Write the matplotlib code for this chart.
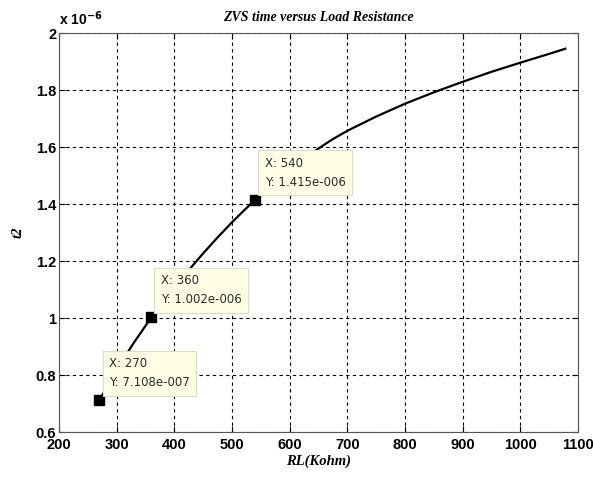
import numpy as np
import matplotlib.pyplot as plt

# load resistance (kohm) and ZVS time t2 (s)
rl = [270, 300, 330, 360, 380, 400, 425, 450, 475, 500, 520, 540, 570,
      600, 625, 650, 675, 700, 750, 800, 850, 900, 950, 1000, 1050, 1078]
t2 = [0.7108e-6, 0.820e-6, 0.914e-6, 1.002e-6, 1.055e-6, 1.106e-6,
      1.168e-6, 1.227e-6, 1.283e-6, 1.336e-6, 1.376e-6, 1.415e-6,
      1.470e-6, 1.520e-6, 1.559e-6, 1.595e-6, 1.628e-6, 1.657e-6,
      1.707e-6, 1.752e-6, 1.792e-6, 1.829e-6, 1.864e-6, 1.896e-6,
      1.927e-6, 1.945e-6]

# data tips
tip_x = [270, 360, 540]
tip_y = [7.108e-7, 1.002e-6, 1.415e-6]

xticks = [200, 300, 400, 500, 600, 700, 800, 900, 1000, 1100]
yticks = [0.6, 0.8, 1.0, 1.2, 1.4, 1.6, 1.8, 2.0]


def matlab_exp(v):
    # MATLAB style 4 significant digits with 3 digit exponent
    m, e = ('%.3e' % v).split('e')
    e = int(e)
    sign = '-' if e < 0 else '+'
    return '%se%s%03d' % (m, sign, abs(e))


fig = plt.figure(figsize=(5.93, 4.86), dpi=100)
ax = fig.add_axes([0.0995, 0.111, 0.8752, 0.821])

scale = 1e6
ax.plot(rl, np.array(t2) * scale, color='black', lw=1.6, zorder=3)
ax.plot(tip_x, np.array(tip_y) * scale, 's', color='black', ms=7.5, zorder=4,
        markeredgecolor='black')

for x, y in zip(tip_x, tip_y):
    ax.annotate('X: %d\nY: %s' % (x, matlab_exp(y)), (x, y * scale),
                xytext=(7, 8), textcoords='offset points',
                fontsize=8.5, color='#2a2a2a', family='DejaVu Sans',
                ha='left', va='bottom', linespacing=1.6, zorder=5,
                bbox=dict(boxstyle='square,pad=0.55', fc='#ffffe6',
                          ec='#dcdcc8', lw=0.8))

ax.set_xlim(200, 1100)
ax.set_ylim(0.6, 2.0)
ax.set_xticks(xticks)
ax.set_yticks(yticks)
ax.set_yticklabels(['%g' % v for v in yticks])
ax.grid(True, color='black', ls=(0, (3, 3)), lw=0.8)
ax.tick_params(direction='in', length=4, top=True, right=True, pad=2)
ax.tick_params(axis='x', pad=4)
for lbl in ax.get_xticklabels() + ax.get_yticklabels():
    lbl.set_fontfamily('Liberation Sans')
    lbl.set_fontweight('bold')
    lbl.set_fontsize(10.5)
for s in ax.spines.values():
    s.set_color('#555555')

ax.text(0.0, 1.012, r'x 10$^{\mathbf{-6}}$', transform=ax.transAxes,
        fontsize=10, fontweight='bold', family='Liberation Sans',
        ha='left', va='bottom')

ax.set_title('ZVS time versus Load Resistance', family='Liberation Serif',
             style='italic', fontweight='bold', fontsize=10, pad=9)
ax.set_xlabel('RL(Kohm)', family='Liberation Serif', style='italic',
              fontweight='bold', fontsize=10.5, labelpad=2)
ax.set_ylabel('t2', family='Liberation Serif', style='italic',
              fontweight='bold', fontsize=10.5, labelpad=8)

fig.savefig('out.png', dpi=100)
